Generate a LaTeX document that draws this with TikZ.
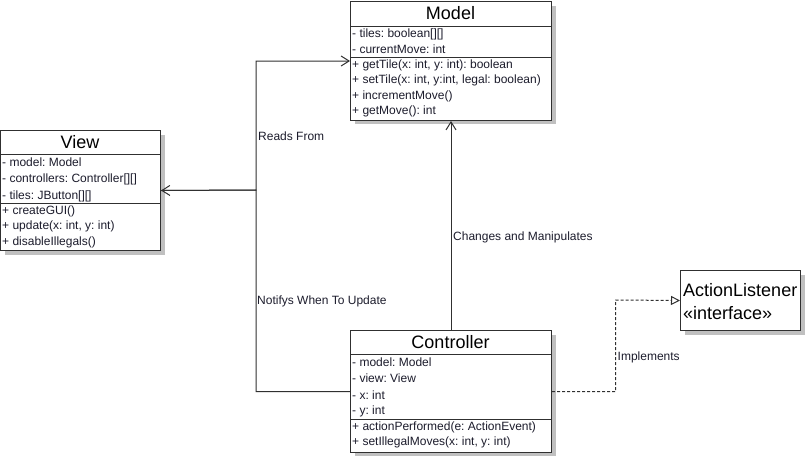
\documentclass[tikz,border=0pt]{standalone}
\usepackage{fontspec}
\setmainfont{Liberation Sans}
\usetikzlibrary{arrows.meta}
\frenchspacing
\definecolor{linec}{HTML}{303030}
\definecolor{shadowc}{HTML}{C0C0C0}
\definecolor{txtc}{HTML}{1C1C2C}
\tikzset{
  umlbox/.style={draw=linec, line width=1pt, fill=white, rectangle, inner sep=0pt, anchor=north west},
  shadowbox/.style={fill=shadowc, draw=none},
  sepline/.style={draw=linec, line width=1pt},
  ttl/.style={inner sep=0pt, font=\fontsize{18}{20}\selectfont, text=black},
  mem/.style={inner sep=0pt, anchor=west, font=\fontsize{12}{14}\selectfont\frenchspacing, text=txtc},
  lbl/.style={inner sep=0pt, anchor=west, font=\fontsize{12}{14}\selectfont\frenchspacing, text=txtc},
  assoc/.style={draw=linec, line width=1pt, -{Straight Barb[length=8pt,width=10pt,line width=1pt]}},
  impl/.style={draw=linec, line width=1pt, dash pattern=on 3pt off 2pt, -{Triangle[open,length=9pt,width=9pt,line width=1pt,fill=white]}},
}
\begin{document}
\begin{tikzpicture}[x=1pt,y=-1pt]
\useasboundingbox (0,0) rectangle (805,455);
% ---------- Model ----------
\fill[shadowbox] (355,6) rectangle (556,124);
\node[umlbox, minimum width=201pt, minimum height=119pt] (model) at (350,1) {};
\draw[sepline] (350,26) -- (551,26);
\draw[sepline] (350,57) -- (551,57);
\node[ttl] (modelt) at (450.5,13.5) {Model};
\node[mem] (m1) at (352,34) {- tiles: boolean[][]};
\node[mem] (m2) at (352,49.5) {- currentMove: int};
\node[mem] (m3) at (352,65) {+ getTile(x: int, y: int): boolean};
\node[mem] (m4) at (352,80.5) {+ setTile(x: int, y:int, legal: boolean)};
\node[mem] (m5) at (352,96) {+ incrementMove()};
\node[mem] (m6) at (352,111.5) {+ getMove(): int};
% ---------- View ----------
\fill[shadowbox] (5,135) rectangle (165,255);
\node[umlbox, minimum width=160pt, minimum height=120pt] (view) at (0,130) {};
\draw[sepline] (0,154) -- (160,154);
\draw[sepline] (0,203) -- (160,203);
\node[ttl] (viewt) at (80,142) {View};
\node[mem] (v1) at (2,162) {- model: Model};
\node[mem] (v2) at (2,179) {- controllers: Controller[][]};
\node[mem] (v3) at (2,196) {- tiles: JButton[][]};
\node[mem] (v4) at (2,211) {+ createGUI()};
\node[mem] (v5) at (2,226.5) {+ update(x: int, y: int)};
\node[mem] (v6) at (2,242) {+ disableIllegals()};
% ---------- Controller ----------
\fill[shadowbox] (355,335) rectangle (556,457);
\node[umlbox, minimum width=201pt, minimum height=122pt] (ctrl) at (350,330) {};
\draw[sepline] (350,354) -- (551,354);
\draw[sepline] (350,419) -- (551,419);
\node[ttl] (ctrlt) at (450.5,342) {Controller};
\node[mem] (c1) at (352,362) {- model: Model};
\node[mem] (c2) at (352,378.5) {- view: View};
\node[mem] (c3) at (352,395) {- x: int};
\node[mem] (c4) at (352,411) {- y: int};
\node[mem] (c5) at (352,427) {+ actionPerformed(e: ActionEvent)};
\node[mem] (c6) at (352,442) {+ setIllegalMoves(x: int, y: int)};
% ---------- ActionListener ----------
\fill[shadowbox] (685,275) rectangle (805,335);
\node[umlbox, minimum width=120pt, minimum height=60pt] (al) at (680,270) {};
\node[ttl, anchor=west] (alt1) at (683,290) {ActionListener};
\node[ttl, anchor=west] (alt2) at (683,313) {«interface»};
% ---------- connectors ----------
\coordinate (j1) at (256,190);
\coordinate (j2) at (615.5,300);
\draw[assoc] (view.east) -- (j1) |- (model.west);
\draw[assoc] (ctrl.west) -| (j1) -- (view.east);
\draw[assoc] (ctrl.north) -- (model.south);
\draw[impl] (ctrl.east) -| (j2) -- (al.west);
% ---------- labels ----------
\node[lbl] (l1) at (258,136) {Reads From};
\node[lbl] (l2) at (257,301) {Notifys When To Update};
\node[lbl] (l3) at (453,237) {Changes and Manipulates};
\node[lbl] (l4) at (617.5,357) {Implements};
\end{tikzpicture}
\end{document}
